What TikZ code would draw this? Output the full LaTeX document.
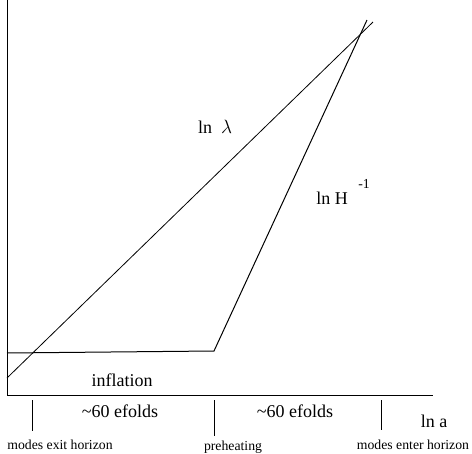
\documentclass[tikz,border=0pt]{standalone}
\usepackage{fontspec}
\setmainfont{Liberation Serif}
\usetikzlibrary{calc}
\tikzset{lbl/.style={font=\fontsize{13.5}{15}\selectfont, inner sep=0pt},
  small/.style={font=\fontsize{10.3}{12}\selectfont, inner sep=0pt}}

\begin{document}
\begin{tikzpicture}[x=0.75pt, y=-0.75pt, line width=0.75pt]
\useasboundingbox (0,0) rectangle (472,454);
% axes
\coordinate (top) at (7,0);
\coordinate (orig) at (7,395);
\coordinate (right) at (433,395);
\draw (top) -- (orig) -- (right);
% ln lambda
\coordinate (l0) at (7,378);
\coordinate (l1) at (373,22);
\draw[line width=0.6pt] (l0) -- (l1);
% ln H^-1
\coordinate (h0) at (7,353);
\coordinate (h1) at (214,351);
\coordinate (h2) at (367,20);
\draw (h0) -- (h1) -- (h2);
% ticks
\foreach \x/\y in {32/431, 214/436, 381/430}
  \draw (\x,400) -- (\x,\y);
% labels
\node[lbl] (lam) at (215,127) {ln\ \ $\lambda$};
\node[lbl] (hub) at (332,198) {ln H};
\node[small] (hexp) at (364,184) {-1};
\node[lbl] (infl) at (122,380) {inflation};
\node[lbl] (ef1) at (120,411) {\textasciitilde60 efolds};
\node[lbl] (ef2) at (295,411) {\textasciitilde60 efolds};
\node[lbl] (lna) at (434,421) {ln a};
\node[small] (exit) at (60,445) {modes exit horizon};
\node[small] (pre) at (233,447) {preheating};
\node[small] (enter) at (413,445) {modes enter horizon};
\end{tikzpicture}
\end{document}
